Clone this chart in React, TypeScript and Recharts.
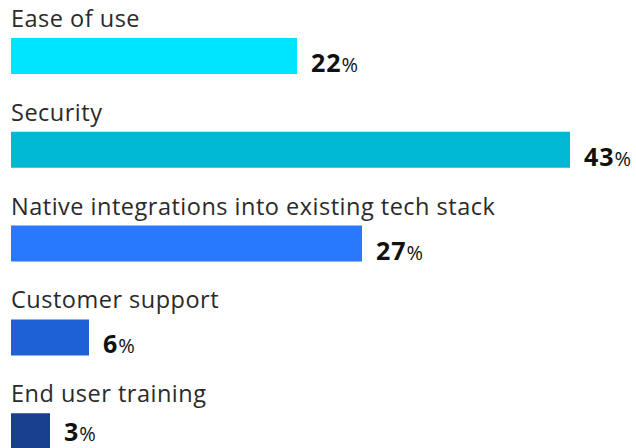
import { BarChart, Bar, XAxis, YAxis, Cell, LabelList } from "recharts";

const categories = [
  "Ease of use",
  "Security",
  "Native integrations into existing tech stack",
  "Customer support",
  "End user training",
];
const shares = [22, 43, 27, 6, 3];
const colors = ["#00E5FF", "#00B8D4", "#2979FF", "#1E60D6", "#173F8E"];

const data = categories.map((name, i) => ({ name, value: shares[i] }));

const FONT = "'Open Sans', sans-serif";

function NameLabel(props: any) {
  const { x, y, value } = props;
  return (
    <text x={x} y={y - 11} fill="#2a2a2a" fontFamily={FONT} fontSize={23.5} letterSpacing={0.5}>
      {value}
    </text>
  );
}

function ValueLabel(props: any) {
  const { x, y, width, height, value } = props;
  // keep the last label inside the visible area
  const ty = Math.min(y + height - 2, 441);
  return (
    <text x={x + width + 14} y={ty} fill="#111" fontFamily={FONT}>
      <tspan fontSize={25} fontWeight={700} letterSpacing={1}>{value}</tspan>
      <tspan fontSize={20} fontWeight={400}>%</tspan>
    </text>
  );
}

export default function App() {
  return (
    <div style={{ position: "absolute", left: 0, top: 0, width: 636, height: 448, overflow: "hidden", background: "#fff" }}>
      <BarChart
        width={636}
        height={478}
        data={data}
        layout="vertical"
        margin={{ top: 9, right: 1, bottom: 0, left: 11 }}
      >
        <XAxis type="number" domain={[0, 48]} hide allowDataOverflow />
        <YAxis type="category" dataKey="name" hide />
        <Bar dataKey="value" barSize={36} isAnimationActive={false}>
          {data.map((d, i) => (
            <Cell key={d.name} fill={colors[i]} />
          ))}
          <LabelList dataKey="name" content={NameLabel} />
          <LabelList dataKey="value" content={ValueLabel} />
        </Bar>
      </BarChart>
    </div>
  );
}
